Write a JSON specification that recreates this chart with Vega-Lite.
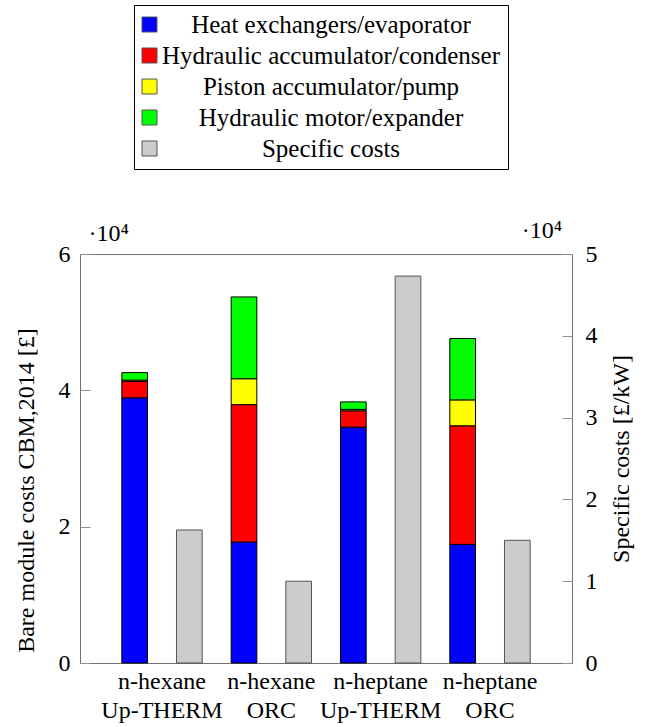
{
  "$schema": "https://vega.github.io/schema/vega-lite/v6.json",
  "autosize": {"type": "none"},
  "padding": {"left": 80, "top": 254, "right": 73, "bottom": 64},
  "width": 492,
  "height": 409,
  "title": {"text": "·10⁴", "anchor": "end", "frame": "group", "offset": -257, "dx": -10, "baseline": "alphabetic", "fontSize": 24, "fontWeight": "normal", "font": "Liberation Serif", "color": "black"},
  "data": {
    "values": [
      {"case": "n-hexane Up-THERM", "kind": "BM", "component": "Heat exchangers/evaporator", "ord": 1, "value": 38900},
      {"case": "n-hexane Up-THERM", "kind": "BM", "component": "Hydraulic accumulator/condenser", "ord": 2, "value": 2400},
      {"case": "n-hexane Up-THERM", "kind": "BM", "component": "Piston accumulator/pump", "ord": 3, "value": 200},
      {"case": "n-hexane Up-THERM", "kind": "BM", "component": "Hydraulic motor/expander", "ord": 4, "value": 1100},
      {"case": "n-hexane Up-THERM", "kind": "SC", "component": "Specific costs", "ord": 5, "value": 16260},
      {"case": "n-hexane ORC", "kind": "BM", "component": "Heat exchangers/evaporator", "ord": 1, "value": 17750},
      {"case": "n-hexane ORC", "kind": "BM", "component": "Hydraulic accumulator/condenser", "ord": 2, "value": 20150},
      {"case": "n-hexane ORC", "kind": "BM", "component": "Piston accumulator/pump", "ord": 3, "value": 3800},
      {"case": "n-hexane ORC", "kind": "BM", "component": "Hydraulic motor/expander", "ord": 4, "value": 12000},
      {"case": "n-hexane ORC", "kind": "SC", "component": "Specific costs", "ord": 5, "value": 10000},
      {"case": "n-heptane Up-THERM", "kind": "BM", "component": "Heat exchangers/evaporator", "ord": 1, "value": 34600},
      {"case": "n-heptane Up-THERM", "kind": "BM", "component": "Hydraulic accumulator/condenser", "ord": 2, "value": 2400},
      {"case": "n-heptane Up-THERM", "kind": "BM", "component": "Piston accumulator/pump", "ord": 3, "value": 200},
      {"case": "n-heptane Up-THERM", "kind": "BM", "component": "Hydraulic motor/expander", "ord": 4, "value": 1100},
      {"case": "n-heptane Up-THERM", "kind": "SC", "component": "Specific costs", "ord": 5, "value": 47300},
      {"case": "n-heptane ORC", "kind": "BM", "component": "Heat exchangers/evaporator", "ord": 1, "value": 17400},
      {"case": "n-heptane ORC", "kind": "BM", "component": "Hydraulic accumulator/condenser", "ord": 2, "value": 17400},
      {"case": "n-heptane ORC", "kind": "BM", "component": "Piston accumulator/pump", "ord": 3, "value": 3800},
      {"case": "n-heptane ORC", "kind": "BM", "component": "Hydraulic motor/expander", "ord": 4, "value": 9000},
      {"case": "n-heptane ORC", "kind": "SC", "component": "Specific costs", "ord": 5, "value": 15000}
    ]
  },
  "layer": [
    {
      "transform": [{"filter": "datum.kind === 'BM'"}],
      "mark": {"type": "bar", "stroke": "black", "strokeWidth": 1},
      "encoding": {
        "x": {
          "field": "case", "type": "nominal",
          "sort": ["n-hexane Up-THERM", "n-hexane ORC", "n-heptane Up-THERM", "n-heptane ORC"],
          "scale": {"paddingInner": 0, "paddingOuter": 0.25},
          "axis": {
            "orient": "bottom", "title": null, "labelAngle": 0, "ticks": false, "domain": false,
            "labelExpr": "[substring(datum.label, 0, indexof(datum.label, ' ')), substring(datum.label, indexof(datum.label, ' ') + 1)]",
            "labelLineHeight": 29, "labelPadding": 6, "labelBaseline": "top"
          }
        },
        "xOffset": {"field": "kind", "type": "nominal", "scale": {"domain": ["BM", "SC"], "paddingInner": 0.53, "paddingOuter": 0.265}},
        "y": {
          "field": "value", "type": "quantitative", "stack": "zero",
          "scale": {"domain": [0, 60000], "nice": false},
          "axis": {
            "orient": "left", "title": "Bare module costs CBM,2014 [£]", "titleY": 236,
            "values": [0, 20000, 40000, 60000], "labelExpr": "datum.value / 10000",
            "grid": false, "domain": false, "tickSize": -10, "tickColor": "#909090", "labelPadding": 20, "titlePadding": 20
          }
        },
        "color": {
          "field": "component", "type": "nominal",
          "scale": {
            "domain": ["Heat exchangers/evaporator", "Hydraulic accumulator/condenser", "Piston accumulator/pump", "Hydraulic motor/expander", "Specific costs"],
            "range": ["#0000ff", "#ff0000", "#ffff00", "#00ff00", "#cccccc"]
          },
          "legend": {
            "title": null, "orient": "none", "legendX": 54, "legendY": -249, "direction": "vertical",
            "symbolType": "square", "symbolSize": 225, "symbolStrokeColor": "black", "symbolStrokeWidth": 1, "symbolOffset": -4,
            "labelFontSize": 25, "labelLimit": 500, "labelAlign": "center", "labelOffset": 169,
            "rowPadding": 5, "padding": 7, "strokeColor": "black", "fillColor": "white", "labelColor": "black"
          }
        },
        "order": {"field": "ord", "type": "quantitative"}
      }
    },
    {
      "transform": [{"filter": "datum.kind === 'SC'"}],
      "mark": {"type": "bar", "stroke": "#555555", "strokeWidth": 1},
      "encoding": {
        "x": {
          "field": "case", "type": "nominal",
          "sort": ["n-hexane Up-THERM", "n-hexane ORC", "n-heptane Up-THERM", "n-heptane ORC"],
          "axis": {
            "orient": "top", "title": "·10⁴", "labels": false, "ticks": false, "domain": false,
            "titleAnchor": "start", "titleX": 8, "titleAlign": "left", "titleBaseline": "alphabetic", "titlePadding": 14
          }
        },
        "xOffset": {"field": "kind", "type": "nominal"},
        "y": {
          "field": "value", "type": "quantitative",
          "scale": {"domain": [0, 50000], "nice": false},
          "axis": {
            "orient": "right", "title": "Specific costs [£/kW]", "titleAngle": 270, "titleBaseline": "top",
            "values": [0, 10000, 20000, 30000, 40000, 50000], "labelExpr": "datum.value / 10000",
            "grid": false, "domain": false, "tickSize": -10, "tickColor": "#909090", "labelPadding": 23, "titlePadding": 12
          }
        },
        "color": {"field": "component", "type": "nominal"}
      }
    }
  ],
  "resolve": {"scale": {"y": "independent"}, "axis": {"x": "independent"}},
  "config": {
    "font": "Liberation Serif",
    "view": {"stroke": "#707070", "strokeWidth": 1},
    "axis": {"labelFontSize": 24, "titleFontSize": 24, "titleFontWeight": "normal", "labelColor": "black", "titleColor": "black", "labelFont": "Liberation Serif", "titleFont": "Liberation Serif"},
    "legend": {"labelFont": "Liberation Serif"}
  }
}
